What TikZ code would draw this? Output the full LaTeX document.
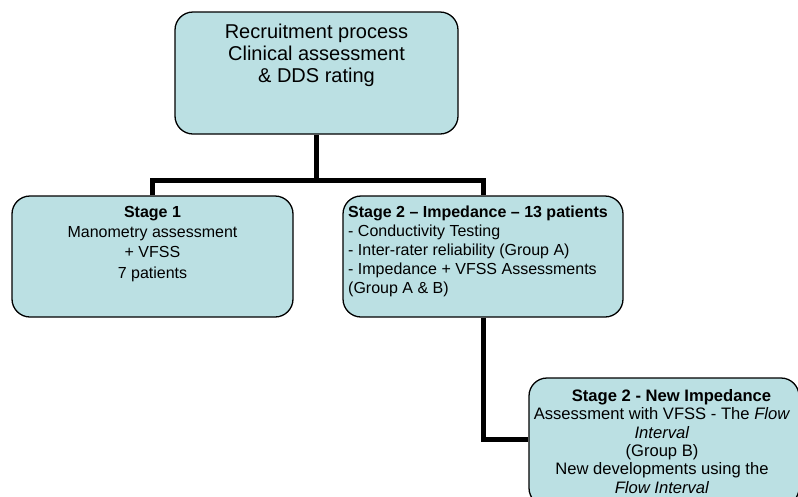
\documentclass[tikz,border=0pt]{standalone}
\usepackage{fontspec}
\setmainfont{Liberation Sans}
\usetikzlibrary{calc}
\definecolor{boxfill}{RGB}{187,224,227}

\tikzset{
  box/.style={draw=black, line width=1.3pt, fill=boxfill, rounded corners=18pt, inner sep=0},
  link/.style={draw=black, line width=5pt, line join=miter},
  bigtxt/.style={align=center, inner sep=0, font=\fontsize{20}{22}\selectfont},
  smalltxt/.style={inner sep=0, font=\fontsize{16}{19}\selectfont}
}

\begin{document}
\begin{tikzpicture}[x=1pt, y=-1pt]
\useasboundingbox (0,0) rectangle (798,496);
\clip (0,0) rectangle (798,496);

\node[box, minimum width=283pt, minimum height=122pt] (recruit) at (316.5,73) {};
\node[bigtxt, anchor=north] (recruittxt) at (316.5,24) {Recruitment process\\Clinical assessment\\\& DDS rating};

\node[box, minimum width=281pt, minimum height=121pt] (stage1) at (152.5,256.5) {};
\node[smalltxt, align=center, anchor=north, font=\fontsize{16}{20.3}\selectfont] (stage1txt) at (152.5,206) {\textbf{Stage 1}\\Manometry assessment\\+ VFSS\\7 patients};

\node[box, minimum width=280pt, minimum height=121pt] (stage2) at (483,256.5) {};
\node[smalltxt, align=left, anchor=north west, font=\fontsize{16}{18.8}\selectfont] (stage2txt) at (348,206) {\textbf{Stage 2 – Impedance – 13 patients}\\- Conductivity Testing\\- Inter-rater reliability (Group A)\\- Impedance + VFSS Assessments\\(Group A \& B)};

\node[box, minimum width=270pt, minimum height=128pt] (newimp) at (664,442) {};
\node[smalltxt, align=center, anchor=north, font=\fontsize{16.6}{18.4}\selectfont] (newimptxt) at (662,389) {\hspace*{19pt}\textbf{Stage 2 - New Impedance}\\Assessment with VFSS - The \textit{Flow}\\\textit{Interval}\\(Group B)\\New developments using the\\\textit{Flow Interval}};

\coordinate (bus) at ($(recruit.south)+(0,45.5)$);
\draw[link] (recruit.south) -- (bus);
\draw[link] (stage1.north) |- (bus) -| (stage2.north);
\draw[link] (stage2.south) |- (newimp.west |- 0,439);
\end{tikzpicture}
\end{document}
